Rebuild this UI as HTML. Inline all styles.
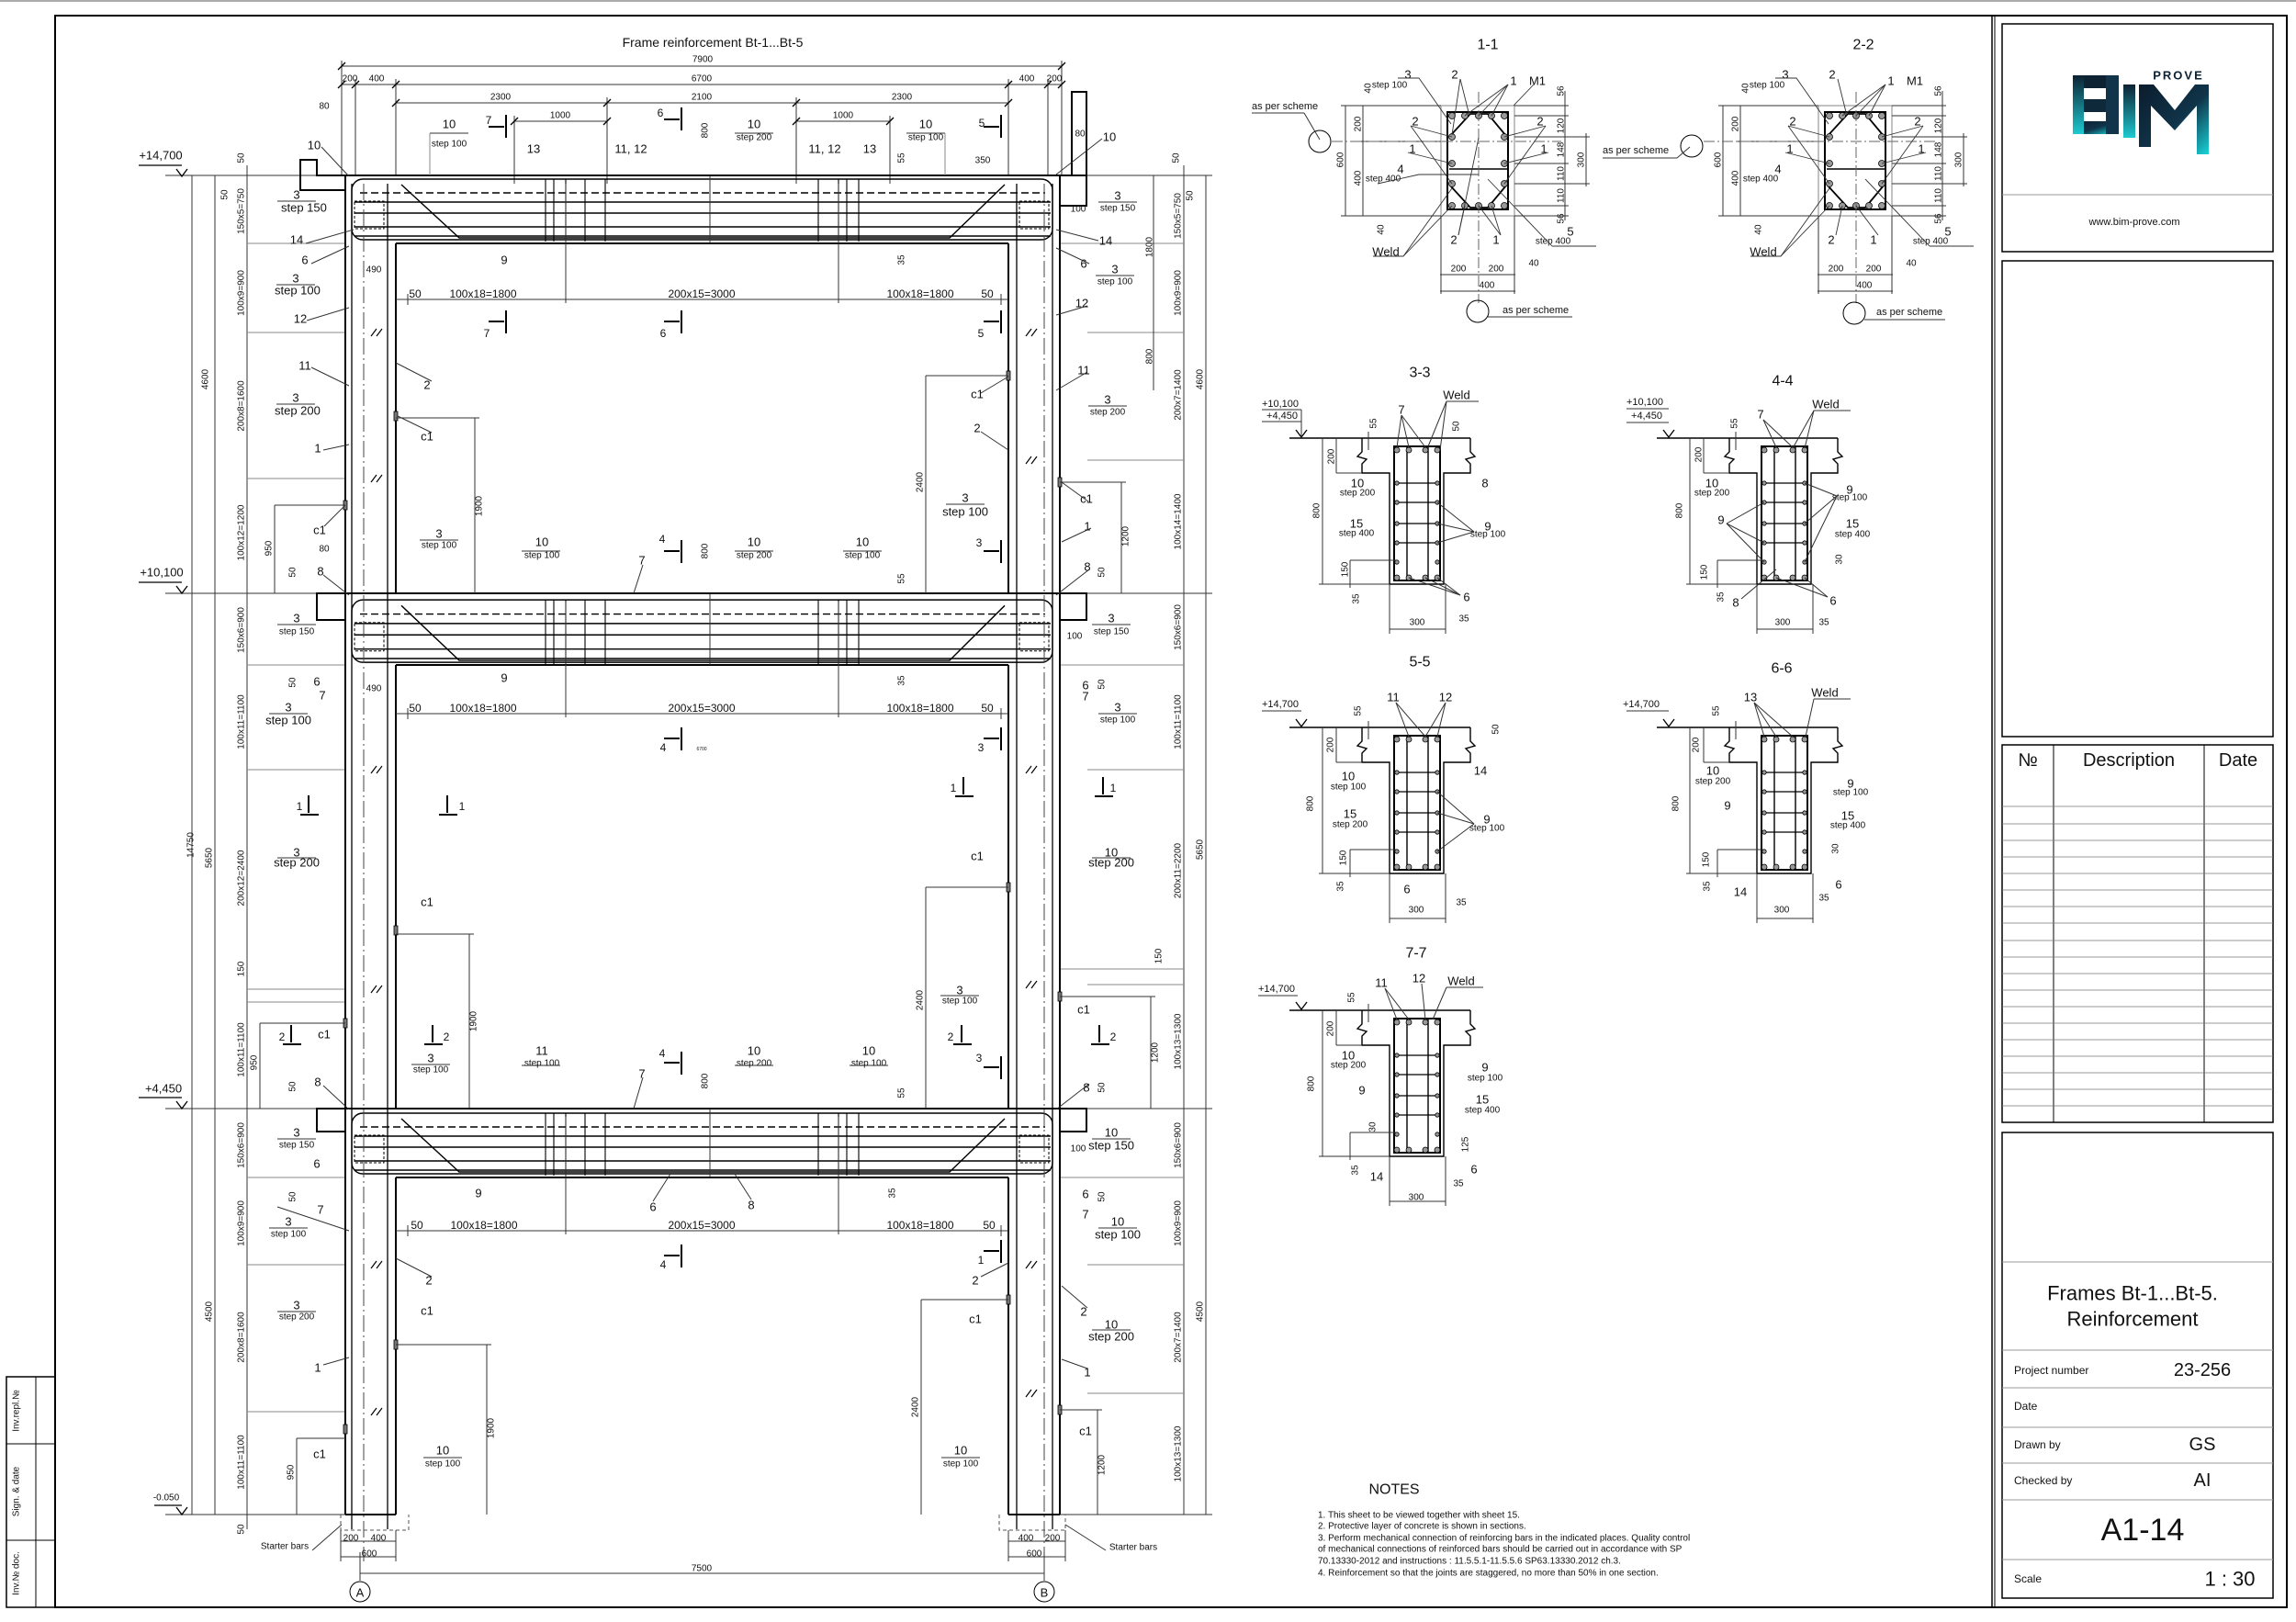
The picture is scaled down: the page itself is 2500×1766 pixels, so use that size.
<!DOCTYPE html>
<html><head><meta charset="utf-8">
<style>
html,body{margin:0;padding:0;background:#fff;}
svg{display:block;}
text{font-family:"Liberation Sans",sans-serif;fill:#111;text-anchor:middle;dominant-baseline:central;font-size:12px;}
.s{font-size:10px;}
.m{font-size:13px;}
.l{text-anchor:start;}
.r{text-anchor:end;}
.st{stroke:#000;fill:none;}
.d{stroke:#333;stroke-width:1;fill:none;}
.g{stroke:#888;stroke-width:1;fill:none;}
</style></head>
<body>
<svg width="2500" height="1766" viewBox="0 0 2500 1766" xmlns="http://www.w3.org/2000/svg">
<rect x="0" y="0" width="2500" height="1766" fill="#fff"/>
<line x1="0" y1="1" x2="2500" y2="1" stroke="#aaa" stroke-width="2"/>
<rect x="60" y="17" width="2430" height="1733" class="st" stroke-width="2"/>
<line x1="2169" y1="17" x2="2169" y2="1750" stroke="#000" stroke-width="1.5"/>
<line x1="2172" y1="17" x2="2172" y2="1750" stroke="#000" stroke-width="1"/>
<rect x="7" y="1499" width="53" height="251" class="st" stroke-width="1.5"/>
<line x1="39" y1="1499" x2="39" y2="1750" stroke="#000"/>
<line x1="7" y1="1572" x2="60" y2="1572" stroke="#000"/>
<line x1="7" y1="1677" x2="60" y2="1677" stroke="#000"/>
<text class="s" transform="translate(18,1536) rotate(-90)">Inv.repl.№</text>
<text class="s" transform="translate(18,1624) rotate(-90)">Sign. &amp; date</text>
<text class="s" transform="translate(18,1713) rotate(-90)">Inv.№ doc.</text>

<rect x="2180" y="26" width="295" height="248" class="st" stroke-width="1.5"/>
<line x1="2180" y1="212" x2="2475" y2="212" stroke="#999"/>
<defs>
<linearGradient id="lg" x1="0" y1="0" x2="1" y2="1"><stop offset="0" stop-color="#0b1c2c"/><stop offset="0.55" stop-color="#10344a"/><stop offset="1" stop-color="#19d3d8"/></linearGradient>
<linearGradient id="lg2" x1="0" y1="0" x2="0" y2="1"><stop offset="0" stop-color="#0d2233"/><stop offset="1" stop-color="#1fc9d0"/></linearGradient>
<g id="beamR" stroke="#000" stroke-width="1.4" fill="none">
<rect x="383" y="4" width="763" height="66" rx="12"/>
<line x1="392" y1="19" x2="1138" y2="19" stroke-dasharray="8,4"/>
<line x1="386" y1="29" x2="1144" y2="29"/>
<line x1="386" y1="41" x2="1144" y2="41"/>
<line x1="386" y1="56" x2="1144" y2="56"/>
<line x1="386" y1="66" x2="1144" y2="66"/>
<polyline points="437,10 500,68 1034,68 1094,10"/>
<g stroke-width="1.1">
<line x1="594" y1="4" x2="594" y2="72"/><line x1="603" y1="4" x2="603" y2="72"/>
<line x1="616" y1="4" x2="616" y2="72"/><line x1="637" y1="4" x2="637" y2="72"/>
<line x1="659" y1="4" x2="659" y2="72"/>
<line x1="891" y1="4" x2="891" y2="72"/><line x1="913" y1="4" x2="913" y2="72"/>
<line x1="922" y1="4" x2="922" y2="72"/><line x1="935" y1="4" x2="935" y2="72"/>
</g>
<g stroke-width="1" stroke-dasharray="3,2">
<rect x="386" y="28" width="32" height="30"/>
<rect x="1110" y="28" width="32" height="30"/>
</g>
</g>
</defs>
<rect x="2257" y="82" width="45" height="14" fill="#0d2233"/>
<rect x="2257" y="108" width="45" height="14" fill="#0e2a3a"/>
<rect x="2257" y="132" width="45" height="14" fill="url(#lg)"/>
<rect x="2257" y="82" width="12" height="64" fill="url(#lg2)"/>
<rect x="2293" y="82" width="14" height="64" fill="#12344a"/>
<rect x="2312" y="92" width="13" height="58" fill="url(#lg2)"/>
<polygon points="2329,92 2345,92 2368,120 2390,92 2405,92 2405,168 2392,168 2392,115 2368,142 2342,115 2342,160 2329,160" fill="url(#lg)"/>
<text x="2372" y="82" style="font-size:13px;font-weight:bold;letter-spacing:2px;fill:#0d2233">PROVE</text>
<text x="2324" y="242" class="s" style="font-size:11px">www.bim-prove.com</text>
<rect x="2180" y="284" width="295" height="518" class="st" stroke-width="1.5"/>
<rect x="2180" y="811" width="295" height="411" class="st" stroke-width="1.5"/>
<line x1="2236" y1="811" x2="2236" y2="1222" stroke="#000"/>
<line x1="2400" y1="811" x2="2400" y2="1222" stroke="#000"/>
<text x="2208" y="828" style="font-size:20px">№</text>
<text x="2318" y="828" style="font-size:20px">Description</text>
<text x="2437" y="828" style="font-size:20px">Date</text>
<g stroke="#777" stroke-width="0.8">
<line x1="2180" y1="878" x2="2475" y2="878"/><line x1="2180" y1="897" x2="2475" y2="897"/>
<line x1="2180" y1="915" x2="2475" y2="915"/><line x1="2180" y1="933" x2="2475" y2="933"/>
<line x1="2180" y1="951" x2="2475" y2="951"/><line x1="2180" y1="969" x2="2475" y2="969"/>
<line x1="2180" y1="987" x2="2475" y2="987"/><line x1="2180" y1="1005" x2="2475" y2="1005"/>
<line x1="2180" y1="1024" x2="2475" y2="1024"/><line x1="2180" y1="1042" x2="2475" y2="1042"/>
<line x1="2180" y1="1060" x2="2475" y2="1060"/><line x1="2180" y1="1078" x2="2475" y2="1078"/>
<line x1="2180" y1="1096" x2="2475" y2="1096"/><line x1="2180" y1="1114" x2="2475" y2="1114"/>
<line x1="2180" y1="1132" x2="2475" y2="1132"/><line x1="2180" y1="1150" x2="2475" y2="1150"/>
<line x1="2180" y1="1168" x2="2475" y2="1168"/><line x1="2180" y1="1186" x2="2475" y2="1186"/>
<line x1="2180" y1="1204" x2="2475" y2="1204"/>
</g>
<rect x="2180" y="1233" width="295" height="507" class="st" stroke-width="1.5"/>
<g stroke="#999" stroke-width="1">
<line x1="2180" y1="1374" x2="2475" y2="1374"/><line x1="2180" y1="1470" x2="2475" y2="1470"/>
<line x1="2180" y1="1511" x2="2475" y2="1511"/><line x1="2180" y1="1554" x2="2475" y2="1554"/>
<line x1="2180" y1="1593" x2="2475" y2="1593"/><line x1="2180" y1="1633" x2="2475" y2="1633"/>
<line x1="2180" y1="1698" x2="2475" y2="1698"/>
</g>
<text x="2322" y="1408" style="font-size:22px">Frames Bt-1...Bt-5.</text>
<text x="2322" y="1436" style="font-size:22px">Reinforcement</text>
<text x="2193" y="1492" class="l" style="font-size:12px">Project number</text>
<text x="2398" y="1492" style="font-size:20px">23-256</text>
<text x="2193" y="1531" class="l" style="font-size:12px">Date</text>
<text x="2193" y="1573" class="l" style="font-size:12px">Drawn by</text>
<text x="2398" y="1573" style="font-size:20px">GS</text>
<text x="2193" y="1612" class="l" style="font-size:12px">Checked by</text>
<text x="2398" y="1612" style="font-size:20px">AI</text>
<text x="2333" y="1666" style="font-size:34px">A1-14</text>
<text x="2193" y="1719" class="l" style="font-size:12px">Scale</text>
<text x="2428" y="1719" style="font-size:22px">1 : 30</text>

<text x="776" y="46" style="font-size:14px">Frame reinforcement  Bt-1...Bt-5</text>

<g class="d">
<line x1="372" y1="72" x2="1156" y2="72"/>
<line x1="372" y1="92" x2="1156" y2="92"/>
<line x1="431" y1="112" x2="1098" y2="112"/>
<line x1="560" y1="132" x2="661" y2="132"/>
<line x1="867" y1="132" x2="969" y2="132"/>
<line x1="372" y1="66" x2="372" y2="190"/><line x1="1156" y1="66" x2="1156" y2="190"/>
<line x1="387" y1="86" x2="387" y2="190"/><line x1="1141" y1="86" x2="1141" y2="190"/>
<line x1="431" y1="86" x2="431" y2="190"/><line x1="1098" y1="86" x2="1098" y2="190"/>
<line x1="661" y1="106" x2="661" y2="200"/><line x1="867" y1="106" x2="867" y2="200"/>
<line x1="560" y1="126" x2="560" y2="200"/><line x1="969" y1="126" x2="969" y2="200"/>
</g>
<g stroke="#000" stroke-width="1.3">
<line x1="368" y1="76" x2="376" y2="68"/><line x1="1152" y1="76" x2="1160" y2="68"/>
<line x1="368" y1="96" x2="376" y2="88"/><line x1="383" y1="96" x2="391" y2="88"/><line x1="427" y1="96" x2="435" y2="88"/>
<line x1="1094" y1="96" x2="1102" y2="88"/><line x1="1137" y1="96" x2="1145" y2="88"/><line x1="1152" y1="96" x2="1160" y2="88"/>
<line x1="427" y1="116" x2="435" y2="108"/><line x1="657" y1="116" x2="665" y2="108"/><line x1="863" y1="116" x2="871" y2="108"/><line x1="1094" y1="116" x2="1102" y2="108"/>
<line x1="556" y1="136" x2="564" y2="128"/><line x1="657" y1="136" x2="665" y2="128"/><line x1="863" y1="136" x2="871" y2="128"/><line x1="965" y1="136" x2="973" y2="128"/>
</g>
<text x="765" y="65" class="s">7900</text>
<text x="381" y="86" class="s">200</text><text x="410" y="86" class="s">400</text>
<text x="764" y="86" class="s">6700</text>
<text x="1118" y="86" class="s">400</text><text x="1148" y="86" class="s">200</text>
<text x="545" y="106" class="s">2300</text><text x="764" y="106" class="s">2100</text><text x="982" y="106" class="s">2300</text>
<text x="610" y="126" class="s">1000</text><text x="918" y="126" class="s">1000</text>

<g class="d">
<line x1="209" y1="191" x2="209" y2="1649"/>
<line x1="234" y1="191" x2="234" y2="1649"/>
<line x1="269" y1="180" x2="269" y2="1665"/>
<line x1="1289" y1="180" x2="1289" y2="1649"/>
<line x1="1313" y1="191" x2="1313" y2="1649"/>
<line x1="180" y1="191" x2="376" y2="191"/>
<line x1="180" y1="646" x2="345" y2="646"/>
<line x1="180" y1="1207" x2="345" y2="1207"/>
<line x1="180" y1="1649" x2="376" y2="1649"/>
<line x1="1154" y1="191" x2="1320" y2="191"/>
<line x1="1183" y1="646" x2="1320" y2="646"/>
<line x1="1183" y1="1207" x2="1320" y2="1207"/>
<line x1="1154" y1="1649" x2="1320" y2="1649"/>
</g>
<g class="g">
<line x1="269" y1="265" x2="376" y2="265"/><line x1="269" y1="362" x2="376" y2="362"/>
<line x1="269" y1="521" x2="376" y2="521"/><line x1="269" y1="724" x2="376" y2="724"/>
<line x1="269" y1="838" x2="376" y2="838"/><line x1="269" y1="1077" x2="376" y2="1077"/>
<line x1="269" y1="1091" x2="376" y2="1091"/><line x1="269" y1="1282" x2="376" y2="1282"/>
<line x1="269" y1="1377" x2="376" y2="1377"/><line x1="269" y1="1537" x2="376" y2="1537"/>
<line x1="1154" y1="265" x2="1289" y2="265"/><line x1="1184" y1="362" x2="1289" y2="362"/>
<line x1="1184" y1="501" x2="1289" y2="501"/><line x1="1154" y1="724" x2="1289" y2="724"/>
<line x1="1184" y1="838" x2="1289" y2="838"/><line x1="1154" y1="1055" x2="1289" y2="1055"/>
<line x1="1184" y1="1072" x2="1289" y2="1072"/><line x1="1154" y1="1282" x2="1289" y2="1282"/>
<line x1="1184" y1="1377" x2="1289" y2="1377"/><line x1="1184" y1="1517" x2="1289" y2="1517"/>
</g>
<text class="s" transform="translate(208,920) rotate(-90)">14750</text>
<text class="s" transform="translate(224,413) rotate(-90)">4600</text>
<text class="s" transform="translate(228,934) rotate(-90)">5650</text>
<text class="s" transform="translate(228,1428) rotate(-90)">4500</text>
<text class="s" transform="translate(263,172) rotate(-90)">50</text>
<text class="s" transform="translate(245,212) rotate(-90)">50</text>
<text class="s" transform="translate(263,230) rotate(-90)">150x5=750</text>
<text class="s" transform="translate(263,319) rotate(-90)">100x9=900</text>
<text class="s" transform="translate(263,442) rotate(-90)">200x8=1600</text>
<text class="s" transform="translate(263,580) rotate(-90)">100x12=1200</text>
<text class="s" transform="translate(263,686) rotate(-90)">150x6=900</text>
<text class="s" transform="translate(263,786) rotate(-90)">100x11=1100</text>
<text class="s" transform="translate(263,956) rotate(-90)">200x12=2400</text>
<text class="s" transform="translate(263,1055) rotate(-90)">150</text>
<text class="s" transform="translate(263,1143) rotate(-90)">100x11=1100</text>
<text class="s" transform="translate(263,1247) rotate(-90)">150x6=900</text>
<text class="s" transform="translate(263,1332) rotate(-90)">100x9=900</text>
<text class="s" transform="translate(263,1456) rotate(-90)">200x8=1600</text>
<text class="s" transform="translate(263,1592) rotate(-90)">100x11=1100</text>
<text class="s" transform="translate(263,1665) rotate(-90)">50</text>
<text class="s" transform="translate(1283,235) rotate(-90)">150x5=750</text>
<text class="s" transform="translate(1283,319) rotate(-90)">100x9=900</text>
<text class="s" transform="translate(1283,430) rotate(-90)">200x7=1400</text>
<text class="s" transform="translate(1283,568) rotate(-90)">100x14=1400</text>
<text class="s" transform="translate(1283,683) rotate(-90)">150x6=900</text>
<text class="s" transform="translate(1283,786) rotate(-90)">100x11=1100</text>
<text class="s" transform="translate(1283,948) rotate(-90)">200x11=2200</text>
<text class="s" transform="translate(1262,1041) rotate(-90)">150</text>
<text class="s" transform="translate(1283,1134) rotate(-90)">100x13=1300</text>
<text class="s" transform="translate(1283,1247) rotate(-90)">150x6=900</text>
<text class="s" transform="translate(1283,1332) rotate(-90)">100x9=900</text>
<text class="s" transform="translate(1283,1456) rotate(-90)">200x7=1400</text>
<text class="s" transform="translate(1283,1583) rotate(-90)">100x13=1300</text>
<text class="s" transform="translate(1307,413) rotate(-90)">4600</text>
<text class="s" transform="translate(1307,925) rotate(-90)">5650</text>
<text class="s" transform="translate(1307,1428) rotate(-90)">4500</text>
<text class="s" transform="translate(1281,172) rotate(-90)">50</text>
<text class="s" transform="translate(1296,213) rotate(-90)">50</text>

<g stroke="#000" stroke-width="1.3" fill="none">
<polyline points="151,180 198,180"/><polyline points="192,184 198,192 204,184"/>
<polyline points="151,634 198,634"/><polyline points="192,638 198,646 204,638"/>
<polyline points="151,1195 198,1195"/><polyline points="192,1199 198,1207 204,1199"/>
<polyline points="168,1639 198,1639"/><polyline points="192,1641 198,1649 204,1641"/>
</g>
<text x="175" y="169" class="m">+14,700</text>
<text x="176" y="623" class="m">+10,100</text>
<text x="178" y="1185" class="m">+4,450</text>
<text x="181" y="1631" class="s">-0.050</text>

<g stroke="#000" stroke-width="2" fill="none">
<line x1="376" y1="191" x2="376" y2="1649"/>
<line x1="431" y1="265" x2="431" y2="646"/>
<line x1="431" y1="724" x2="431" y2="1207"/>
<line x1="431" y1="1282" x2="431" y2="1649"/>
<line x1="1098" y1="265" x2="1098" y2="646"/>
<line x1="1098" y1="724" x2="1098" y2="1207"/>
<line x1="1098" y1="1282" x2="1098" y2="1649"/>
<line x1="1154" y1="191" x2="1154" y2="1649"/>
<line x1="376" y1="1649" x2="431" y2="1649"/>
<line x1="1098" y1="1649" x2="1154" y2="1649"/>
<polyline points="376,207 327,207 327,174 345,174 345,191 1183,191 1183,100 1167,100 1167,191"/>
<polyline points="1154,224 1183,224 1183,191"/>
<line x1="431" y1="265" x2="1098" y2="265"/>
<polyline points="376,675 345,675 345,646 1183,646 1183,675 1154,675"/>
<line x1="431" y1="724" x2="1098" y2="724"/>
<polyline points="376,1232 345,1232 345,1207 1183,1207 1183,1232 1154,1232"/>
<line x1="431" y1="1282" x2="1098" y2="1282"/>
</g>
<g stroke="#555" stroke-width="1" fill="none" stroke-dasharray="4,3">
<polyline points="371,1649 371,1666 445,1666 445,1649"/>
<polyline points="1088,1649 1088,1666 1160,1666 1160,1649"/>
</g>

<use href="#beamR" transform="translate(0,191)"/>
<use href="#beamR" transform="translate(0,649) scale(1,1.03)"/>
<use href="#beamR" transform="translate(0,1208)"/>

<g stroke="#000" stroke-width="1.3" fill="none">
<line x1="383" y1="200" x2="383" y2="1665"/>
<line x1="422" y1="200" x2="422" y2="1665"/>
<line x1="1107" y1="200" x2="1107" y2="1665"/>
<line x1="1146" y1="200" x2="1146" y2="1665"/>
</g>
<g stroke="#444" stroke-width="1" fill="none" stroke-dasharray="18,4,2,4">
<line x1="396" y1="200" x2="396" y2="1700"/>
<line x1="1137" y1="200" x2="1137" y2="1700"/>
</g>
<g stroke="#000" stroke-width="1.2">
<line x1="404" y1="366" x2="410" y2="358"/><line x1="410" y1="366" x2="416" y2="358"/>
<line x1="404" y1="525" x2="410" y2="517"/><line x1="410" y1="525" x2="416" y2="517"/>
<line x1="404" y1="842" x2="410" y2="834"/><line x1="410" y1="842" x2="416" y2="834"/>
<line x1="404" y1="1081" x2="410" y2="1073"/><line x1="410" y1="1081" x2="416" y2="1073"/>
<line x1="404" y1="1381" x2="410" y2="1373"/><line x1="410" y1="1381" x2="416" y2="1373"/>
<line x1="404" y1="1541" x2="410" y2="1533"/><line x1="410" y1="1541" x2="416" y2="1533"/>
<line x1="1117" y1="366" x2="1123" y2="358"/><line x1="1123" y1="366" x2="1129" y2="358"/>
<line x1="1117" y1="505" x2="1123" y2="497"/><line x1="1123" y1="505" x2="1129" y2="497"/>
<line x1="1117" y1="842" x2="1123" y2="834"/><line x1="1123" y1="842" x2="1129" y2="834"/>
<line x1="1117" y1="1076" x2="1123" y2="1068"/><line x1="1123" y1="1076" x2="1129" y2="1068"/>
<line x1="1117" y1="1381" x2="1123" y2="1373"/><line x1="1123" y1="1381" x2="1129" y2="1373"/>
<line x1="1117" y1="1521" x2="1123" y2="1513"/><line x1="1123" y1="1521" x2="1129" y2="1513"/>
</g>
<g fill="#777" stroke="#000" stroke-width="0.8">
<rect x="429" y="448" width="4" height="10"/><rect x="374" y="545" width="4" height="10"/>
<rect x="429" y="1008" width="4" height="10"/><rect x="374" y="1109" width="4" height="10"/>
<rect x="429" y="1459" width="4" height="10"/><rect x="374" y="1551" width="4" height="10"/>
<rect x="1096" y="404" width="4" height="10"/><rect x="1152" y="520" width="4" height="10"/>
<rect x="1096" y="961" width="4" height="10"/><rect x="1152" y="1080" width="4" height="10"/>
<rect x="1096" y="1410" width="4" height="10"/><rect x="1152" y="1530" width="4" height="10"/>
</g>

<g class="d">
<line x1="431" y1="326" x2="1098" y2="326"/>
<line x1="431" y1="777" x2="1098" y2="777"/>
<line x1="431" y1="1340" x2="1098" y2="1340"/>
<line x1="616" y1="200" x2="616" y2="330"/><line x1="913" y1="200" x2="913" y2="330"/>
<line x1="616" y1="655" x2="616" y2="781"/><line x1="913" y1="655" x2="913" y2="781"/>
<line x1="616" y1="1216" x2="616" y2="1344"/><line x1="913" y1="1216" x2="913" y2="1344"/>
<line x1="444" y1="320" x2="444" y2="332"/><line x1="1090" y1="320" x2="1090" y2="332"/>
<line x1="444" y1="771" x2="444" y2="783"/><line x1="1090" y1="771" x2="1090" y2="783"/>
<line x1="444" y1="1334" x2="444" y2="1346"/><line x1="1090" y1="1334" x2="1090" y2="1346"/>
<line x1="773" y1="191" x2="773" y2="265"/><line x1="773" y1="646" x2="773" y2="724"/><line x1="773" y1="1207" x2="773" y2="1282"/>
</g>
<g class="s">
<text x="452" y="320">50</text><text x="526" y="320">100x18=1800</text><text x="764" y="320">200x15=3000</text><text x="1002" y="320">100x18=1800</text><text x="1075" y="320">50</text>
<text x="452" y="771">50</text><text x="526" y="771">100x18=1800</text><text x="764" y="771">200x15=3000</text><text x="1002" y="771">100x18=1800</text><text x="1075" y="771">50</text>
<text x="454" y="1334">50</text><text x="527" y="1334">100x18=1800</text><text x="764" y="1334">200x15=3000</text><text x="1002" y="1334">100x18=1800</text><text x="1077" y="1334">50</text>
</g>

<g class="d">
<line x1="517" y1="455" x2="517" y2="646"/><line x1="431" y1="455" x2="522" y2="455"/>
<line x1="1008" y1="409" x2="1008" y2="646"/><line x1="1008" y1="409" x2="1098" y2="409"/>
<line x1="1221" y1="525" x2="1221" y2="646"/><line x1="1154" y1="525" x2="1226" y2="525"/>
<line x1="299" y1="550" x2="299" y2="646"/><line x1="299" y1="550" x2="376" y2="550"/>
<line x1="511" y1="1017" x2="511" y2="1207"/><line x1="431" y1="1017" x2="516" y2="1017"/>
<line x1="1008" y1="966" x2="1008" y2="1207"/><line x1="1008" y1="966" x2="1098" y2="966"/>
<line x1="1253" y1="1085" x2="1253" y2="1207"/><line x1="1154" y1="1085" x2="1258" y2="1085"/>
<line x1="283" y1="1114" x2="283" y2="1207"/><line x1="283" y1="1114" x2="376" y2="1114"/>
<line x1="530" y1="1464" x2="530" y2="1649"/><line x1="431" y1="1464" x2="535" y2="1464"/>
<line x1="1003" y1="1415" x2="1003" y2="1649"/><line x1="1003" y1="1415" x2="1098" y2="1415"/>
<line x1="1195" y1="1535" x2="1195" y2="1649"/><line x1="1154" y1="1535" x2="1200" y2="1535"/>
<line x1="323" y1="1566" x2="323" y2="1649"/><line x1="323" y1="1566" x2="376" y2="1566"/>
<line x1="1256" y1="191" x2="1256" y2="362"/>
<line x1="1256" y1="362" x2="1256" y2="425"/>
</g>
<text class="s" transform="translate(522,551) rotate(-90)">1900</text>
<text class="s" transform="translate(1002,525) rotate(-90)">2400</text>
<text class="s" transform="translate(1226,584) rotate(-90)">1200</text>
<text class="s" transform="translate(293,597) rotate(-90)">950</text>
<text class="s" transform="translate(516,1112) rotate(-90)">1900</text>
<text class="s" transform="translate(1002,1089) rotate(-90)">2400</text>
<text class="s" transform="translate(1258,1146) rotate(-90)">1200</text>
<text class="s" transform="translate(277,1157) rotate(-90)">950</text>
<text class="s" transform="translate(535,1555) rotate(-90)">1900</text>
<text class="s" transform="translate(997,1532) rotate(-90)">2400</text>
<text class="s" transform="translate(1200,1595) rotate(-90)">1200</text>
<text class="s" transform="translate(317,1603) rotate(-90)">950</text>
<text class="s" transform="translate(1252,269) rotate(-90)">1800</text>
<text class="s" transform="translate(1252,388) rotate(-90)">800</text>
<text class="s" transform="translate(768,142) rotate(-90)">800</text>
<text class="s" transform="translate(768,600) rotate(-90)">800</text>
<text class="s" transform="translate(768,1177) rotate(-90)">800</text>
<text class="s" transform="translate(982,172) rotate(-90)">55</text>
<text class="s" transform="translate(982,283) rotate(-90)">35</text>
<text class="s" transform="translate(982,630) rotate(-90)">55</text>
<text class="s" transform="translate(982,741) rotate(-90)">35</text>
<text class="s" transform="translate(982,1190) rotate(-90)">55</text>
<text class="s" transform="translate(972,1299) rotate(-90)">35</text>
<text class="s" transform="translate(319,623) rotate(-90)">50</text>
<text class="s" transform="translate(319,743) rotate(-90)">50</text>
<text class="s" transform="translate(319,1183) rotate(-90)">50</text>
<text class="s" transform="translate(319,1303) rotate(-90)">50</text>
<text class="s" transform="translate(1200,623) rotate(-90)">50</text>
<text class="s" transform="translate(1200,745) rotate(-90)">50</text>
<text class="s" transform="translate(1200,1184) rotate(-90)">50</text>
<text class="s" transform="translate(1200,1303) rotate(-90)">50</text>

<g class="d" stroke="#000">
<line x1="468" y1="145" x2="510" y2="145"/><line x1="800" y1="145" x2="842" y2="145"/><line x1="987" y1="145" x2="1029" y2="145"/>
<line x1="568" y1="600" x2="610" y2="600"/><line x1="800" y1="600" x2="842" y2="600"/><line x1="918" y1="600" x2="960" y2="600"/>
<line x1="568" y1="1160" x2="610" y2="1160"/><line x1="800" y1="1160" x2="842" y2="1160"/><line x1="925" y1="1160" x2="967" y2="1160"/>
<line x1="302" y1="219" x2="344" y2="219"/><line x1="301" y1="310" x2="343" y2="310"/><line x1="301" y1="440" x2="343" y2="440"/>
<line x1="457" y1="588" x2="499" y2="588"/><line x1="302" y1="680" x2="344" y2="680"/><line x1="293" y1="777" x2="335" y2="777"/>
<line x1="302" y1="934" x2="344" y2="934"/><line x1="448" y1="1159" x2="490" y2="1159"/><line x1="302" y1="1240" x2="344" y2="1240"/>
<line x1="293" y1="1337" x2="335" y2="1337"/><line x1="302" y1="1428" x2="344" y2="1428"/><line x1="461" y1="1587" x2="503" y2="1587"/>
<line x1="1196" y1="220" x2="1238" y2="220"/><line x1="1193" y1="300" x2="1235" y2="300"/><line x1="1185" y1="442" x2="1227" y2="442"/>
<line x1="1030" y1="549" x2="1072" y2="549"/><line x1="1189" y1="680" x2="1231" y2="680"/><line x1="1196" y1="777" x2="1238" y2="777"/>
<line x1="1189" y1="934" x2="1231" y2="934"/><line x1="1024" y1="1084" x2="1066" y2="1084"/><line x1="1189" y1="1240" x2="1231" y2="1240"/>
<line x1="1196" y1="1337" x2="1238" y2="1337"/><line x1="1189" y1="1448" x2="1231" y2="1448"/><line x1="1025" y1="1587" x2="1067" y2="1587"/>
<line x1="302" y1="1314" x2="380" y2="1340"/>
<line x1="468" y1="145" x2="468" y2="191" stroke="#888"/><line x1="1029" y1="145" x2="1029" y2="191" stroke="#888"/>
<line x1="350" y1="160" x2="380" y2="192"/><line x1="1200" y1="151" x2="1150" y2="190"/>
<line x1="333" y1="265" x2="385" y2="250"/><line x1="339" y1="287" x2="380" y2="268"/>
<line x1="334" y1="349" x2="380" y2="335"/><line x1="339" y1="400" x2="380" y2="420"/>
<line x1="470" y1="415" x2="431" y2="395"/><line x1="352" y1="490" x2="380" y2="484"/>
<line x1="470" y1="471" x2="433" y2="453"/><line x1="353" y1="573" x2="376" y2="550"/>
<line x1="352" y1="626" x2="380" y2="648"/><line x1="700" y1="615" x2="690" y2="646"/>
<line x1="1196" y1="262" x2="1150" y2="250"/><line x1="1186" y1="287" x2="1150" y2="270"/>
<line x1="1184" y1="333" x2="1150" y2="343"/><line x1="1184" y1="405" x2="1150" y2="425"/>
<line x1="1068" y1="428" x2="1098" y2="410"/><line x1="1068" y1="470" x2="1098" y2="490"/>
<line x1="1185" y1="546" x2="1156" y2="525"/><line x1="1188" y1="575" x2="1156" y2="590"/>
<line x1="1186" y1="620" x2="1150" y2="648"/>
<line x1="352" y1="1182" x2="380" y2="1208"/><line x1="1186" y1="1180" x2="1150" y2="1208"/>
<line x1="700" y1="1173" x2="690" y2="1207"/><line x1="711" y1="1308" x2="730" y2="1278"/><line x1="818" y1="1306" x2="800" y2="1278"/>
<line x1="1068" y1="1390" x2="1098" y2="1375"/><line x1="470" y1="1390" x2="431" y2="1370"/>
<line x1="1184" y1="1424" x2="1156" y2="1400"/><line x1="1184" y1="1490" x2="1156" y2="1480"/>
<line x1="352" y1="1486" x2="380" y2="1478"/>
</g>
<text x="489" y="135" class="m">10</text><text x="489" y="157" class="s">step 100</text>
<text x="821" y="135" class="m">10</text><text x="821" y="150" class="s">step 200</text>
<text x="1008" y="135" class="m">10</text><text x="1008" y="150" class="s">step 100</text>
<text x="581" y="162" class="m">13</text><text x="687" y="162" class="m">11, 12</text>
<text x="898" y="162" class="m">11, 12</text><text x="947" y="162" class="m">13</text>
<text x="1070" y="175" class="s">350</text>
<text x="353" y="116" class="s">80</text><text x="342" y="158" class="m">10</text>
<text x="1176" y="146" class="s">80</text><text x="1208" y="149" class="m">10</text>
<text x="323" y="212" class="m">3</text><text x="306" y="226" class="m l">step 150</text>
<text x="323" y="261" class="m">14</text><text x="332" y="283" class="m">6</text>
<text x="549" y="283" class="m">9</text>
<text x="407" y="294" class="s">490</text>
<text x="322" y="303" class="m">3</text><text x="299" y="316" class="m l">step 100</text>
<text x="327" y="347" class="m">12</text><text x="332" y="398" class="m">11</text>
<text x="465" y="419" class="m">2</text>
<text x="322" y="433" class="m">3</text><text x="299" y="447" class="m l">step 200</text>
<text x="465" y="475" class="m">c1</text><text x="346" y="488" class="m">1</text>
<text x="348" y="577" class="m">c1</text><text x="353" y="598" class="s">80</text>
<text x="478" y="581" class="m">3</text><text x="478" y="594" class="s">step 100</text>
<text x="590" y="590" class="m">10</text><text x="590" y="605" class="s">step 100</text>
<text x="821" y="590" class="m">10</text><text x="821" y="605" class="s">step 200</text>
<text x="939" y="590" class="m">10</text><text x="939" y="605" class="s">step 100</text>
<text x="699" y="610" class="m">7</text><text x="349" y="622" class="m">8</text>
<text x="1217" y="213" class="m">3</text><text x="1217" y="227" class="s">step 150</text>
<text x="1174" y="228" class="s">100</text><text x="1204" y="262" class="m">14</text>
<text x="1180" y="287" class="m">6</text>
<text x="1214" y="293" class="m">3</text><text x="1214" y="307" class="s">step 100</text>
<text x="1178" y="330" class="m">12</text><text x="1180" y="403" class="m">11</text>
<text x="1206" y="435" class="m">3</text><text x="1206" y="449" class="s">step 200</text>
<text x="1064" y="429" class="m">c1</text><text x="1064" y="466" class="m">2</text>
<text x="1051" y="542" class="m">3</text><text x="1051" y="557" class="m">step 100</text>
<text x="1183" y="543" class="m">c1</text><text x="1184" y="573" class="m">1</text>
<text x="1184" y="617" class="m">8</text>
<text x="323" y="673" class="m">3</text><text x="323" y="688" class="s">step 150</text>
<text x="549" y="738" class="m">9</text>
<text x="345" y="742" class="m">6</text><text x="351" y="757" class="m">7</text>
<text x="407" y="750" class="s">490</text>
<text x="314" y="770" class="m">3</text><text x="314" y="784" class="m">step 100</text>
<text x="1210" y="673" class="m">3</text><text x="1210" y="688" class="s">step 150</text>
<text x="1170" y="693" class="s">100</text>
<text x="1182" y="746" class="m">6</text><text x="1182" y="758" class="m">7</text>
<text x="1217" y="770" class="m">3</text><text x="1217" y="784" class="s">step 100</text>
<text x="764" y="816" class="s" style="font-size:5px">6700</text>
<text x="323" y="928" class="m">3</text><text x="323" y="939" class="m">step 200</text>
<text x="1210" y="928" class="m">10</text><text x="1210" y="939" class="m">step 200</text>
<text x="1064" y="932" class="m">c1</text><text x="465" y="982" class="m">c1</text>
<text x="1045" y="1078" class="m">3</text><text x="1045" y="1090" class="s">step 100</text>
<text x="1180" y="1099" class="m">c1</text><text x="353" y="1126" class="m">c1</text>
<text x="469" y="1152" class="m">3</text><text x="469" y="1165" class="s">step 100</text>
<text x="590" y="1144" class="m">11</text><text x="590" y="1158" class="s">step 100</text>
<text x="821" y="1144" class="m">10</text><text x="821" y="1158" class="s">step 200</text>
<text x="946" y="1144" class="m">10</text><text x="946" y="1158" class="s">step 100</text>
<text x="699" y="1169" class="m">7</text>
<text x="346" y="1178" class="m">8</text><text x="1183" y="1184" class="m">8</text>
<text x="323" y="1233" class="m">3</text><text x="323" y="1247" class="s">step 150</text>
<text x="1210" y="1233" class="m">10</text><text x="1210" y="1247" class="m">step 150</text>
<text x="1174" y="1251" class="s">100</text>
<text x="345" y="1267" class="m">6</text><text x="521" y="1299" class="m">9</text>
<text x="711" y="1314" class="m">6</text><text x="818" y="1312" class="m">8</text>
<text x="349" y="1317" class="m">7</text>
<text x="1182" y="1300" class="m">6</text><text x="1182" y="1322" class="m">7</text>
<text x="314" y="1330" class="m">3</text><text x="314" y="1344" class="s">step 100</text>
<text x="1217" y="1330" class="m">10</text><text x="1217" y="1344" class="m">step 100</text>
<text x="467" y="1394" class="m">2</text><text x="1062" y="1394" class="m">2</text>
<text x="1062" y="1436" class="m">c1</text><text x="1180" y="1428" class="m">2</text>
<text x="323" y="1421" class="m">3</text><text x="323" y="1434" class="s">step 200</text>
<text x="465" y="1427" class="m">c1</text>
<text x="1210" y="1442" class="m">10</text><text x="1210" y="1455" class="m">step 200</text>
<text x="346" y="1489" class="m">1</text><text x="1184" y="1494" class="m">1</text>
<text x="348" y="1583" class="m">c1</text><text x="1182" y="1558" class="m">c1</text>
<text x="482" y="1579" class="m">10</text><text x="482" y="1594" class="s">step 100</text>
<text x="1046" y="1579" class="m">10</text><text x="1046" y="1594" class="s">step 100</text>
<text x="310" y="1684" class="s">Starter bars</text><text x="1234" y="1685" class="s">Starter bars</text>
<line x1="340" y1="1688" x2="372" y2="1660" stroke="#333"/><line x1="1204" y1="1688" x2="1160" y2="1660" stroke="#333"/>

<g stroke="#000" stroke-width="2" fill="none">
<line x1="551" y1="125" x2="551" y2="150"/><line x1="532" y1="138" x2="549" y2="138"/>
<line x1="742" y1="117" x2="742" y2="142"/><line x1="723" y1="130" x2="740" y2="130"/>
<line x1="1090" y1="125" x2="1090" y2="150"/><line x1="1071" y1="138" x2="1088" y2="138"/>
<line x1="551" y1="338" x2="551" y2="363"/><line x1="532" y1="350" x2="549" y2="350"/>
<line x1="742" y1="338" x2="742" y2="363"/><line x1="723" y1="350" x2="740" y2="350"/>
<line x1="1090" y1="338" x2="1090" y2="363"/><line x1="1071" y1="350" x2="1088" y2="350"/>
<line x1="742" y1="588" x2="742" y2="613"/><line x1="723" y1="600" x2="740" y2="600"/>
<line x1="1090" y1="588" x2="1090" y2="613"/><line x1="1071" y1="600" x2="1088" y2="600"/>
<line x1="742" y1="792" x2="742" y2="817"/><line x1="723" y1="804" x2="740" y2="804"/>
<line x1="1090" y1="792" x2="1090" y2="817"/><line x1="1071" y1="804" x2="1088" y2="804"/>
<line x1="742" y1="1145" x2="742" y2="1170"/><line x1="723" y1="1157" x2="740" y2="1157"/>
<line x1="1090" y1="1150" x2="1090" y2="1175"/><line x1="1071" y1="1162" x2="1088" y2="1162"/>
<line x1="742" y1="1355" x2="742" y2="1380"/><line x1="723" y1="1367" x2="740" y2="1367"/>
<line x1="1090" y1="1350" x2="1090" y2="1375"/><line x1="1071" y1="1362" x2="1088" y2="1362"/>
<line x1="327" y1="887" x2="347" y2="887"/><line x1="336" y1="866" x2="336" y2="885"/>
<line x1="478" y1="887" x2="498" y2="887"/><line x1="487" y1="866" x2="487" y2="885"/>
<line x1="1040" y1="867" x2="1060" y2="867"/><line x1="1049" y1="846" x2="1049" y2="865"/>
<line x1="1192" y1="867" x2="1212" y2="867"/><line x1="1201" y1="846" x2="1201" y2="865"/>
<line x1="308" y1="1137" x2="328" y2="1137"/><line x1="317" y1="1116" x2="317" y2="1135"/>
<line x1="462" y1="1137" x2="482" y2="1137"/><line x1="471" y1="1116" x2="471" y2="1135"/>
<line x1="1038" y1="1137" x2="1058" y2="1137"/><line x1="1047" y1="1116" x2="1047" y2="1135"/>
<line x1="1188" y1="1137" x2="1208" y2="1137"/><line x1="1197" y1="1116" x2="1197" y2="1135"/>
</g>
<g class="m" style="font-size:15px">
<text x="532" y="131">7</text><text x="719" y="123">6</text><text x="1069" y="134">5</text>
<text x="530" y="363">7</text><text x="722" y="363">6</text><text x="1068" y="363">5</text>
<text x="721" y="587">4</text><text x="1066" y="591">3</text>
<text x="722" y="814">4</text><text x="1068" y="814">3</text>
<text x="721" y="1147">4</text><text x="1066" y="1152">3</text>
<text x="722" y="1377">4</text><text x="1068" y="1372">1</text>
<text x="326" y="878">1</text><text x="503" y="878">1</text>
<text x="1038" y="858">1</text><text x="1212" y="858">1</text>
<text x="307" y="1129">2</text><text x="486" y="1129">2</text>
<text x="1035" y="1129">2</text><text x="1212" y="1129">2</text>
</g>

<g class="d">
<line x1="371" y1="1678" x2="431" y2="1678"/>
<line x1="371" y1="1695" x2="431" y2="1695"/>
<line x1="1098" y1="1678" x2="1160" y2="1678"/>
<line x1="1098" y1="1695" x2="1160" y2="1695"/>
<line x1="392" y1="1713" x2="1137" y2="1713"/>
<line x1="371" y1="1666" x2="371" y2="1700"/><line x1="431" y1="1666" x2="431" y2="1700"/>
<line x1="1098" y1="1666" x2="1098" y2="1700"/><line x1="1160" y1="1666" x2="1160" y2="1700"/>
<line x1="392" y1="1690" x2="392" y2="1721"/><line x1="1137" y1="1690" x2="1137" y2="1721"/>
</g>
<text x="382" y="1675" class="s">200</text><text x="412" y="1675" class="s">400</text>
<text x="402" y="1692" class="s">600</text>
<text x="1117" y="1675" class="s">400</text><text x="1146" y="1675" class="s">200</text>
<text x="1126" y="1692" class="s">600</text>
<text x="764" y="1708" class="s">7500</text>
<ellipse cx="392" cy="1733" rx="11" ry="11" class="st"/>
<ellipse cx="1137" cy="1733" rx="11" ry="11" class="st"/>
<text x="392" y="1734" class="m">A</text><text x="1137" y="1734" class="m">B</text>

<g id="sec1">
<rect x="1569" y="115" width="80" height="120" fill="none" stroke="#999" stroke-width="1.2"/>
<rect x="1576" y="122" width="66" height="106" fill="none" stroke="#000" stroke-width="2"/>
<polyline points="1579,148 1601,124 1620,124 1640,148" fill="none" stroke="#000" stroke-width="1.8"/>
<polyline points="1579,202 1601,226 1620,226 1640,202" fill="none" stroke="#000" stroke-width="1.8"/>
<line x1="1578" y1="184" x2="1642" y2="184" stroke="#000" stroke-width="1.5"/>
<g fill="#999" stroke="#000" stroke-width="0.8">
<circle cx="1581" cy="126" r="3.5"/><circle cx="1595" cy="126" r="3.5"/><circle cx="1610" cy="126" r="3.5"/><circle cx="1624" cy="126" r="3.5"/><circle cx="1638" cy="126" r="3.5"/>
<circle cx="1581" cy="224" r="3.5"/><circle cx="1595" cy="224" r="3.5"/><circle cx="1610" cy="224" r="3.5"/><circle cx="1624" cy="224" r="3.5"/><circle cx="1638" cy="224" r="3.5"/>
<circle cx="1581" cy="149" r="3.5"/><circle cx="1638" cy="149" r="3.5"/>
<circle cx="1581" cy="178" r="3.5"/><circle cx="1638" cy="178" r="3.5"/>
<circle cx="1581" cy="200" r="3.5"/><circle cx="1638" cy="200" r="3.5"/>
</g>
<g stroke="#666" stroke-width="1" stroke-dasharray="12,3,2,3">
<line x1="1610" y1="100" x2="1610" y2="330"/>
</g>
<g class="d">
<line x1="1465" y1="115" x2="1465" y2="235"/><line x1="1484" y1="115" x2="1484" y2="235"/>
<line x1="1460" y1="115" x2="1569" y2="115"/><line x1="1460" y1="235" x2="1569" y2="235"/>
<line x1="1480" y1="154" x2="1569" y2="154"/>
<line x1="1704" y1="99" x2="1704" y2="240"/><line x1="1727" y1="145" x2="1727" y2="203"/>
<line x1="1649" y1="115" x2="1708" y2="115"/><line x1="1649" y1="126" x2="1708" y2="126"/>
<line x1="1649" y1="149" x2="1731" y2="149"/><line x1="1649" y1="178" x2="1708" y2="178"/>
<line x1="1649" y1="200" x2="1731" y2="200"/><line x1="1649" y1="224" x2="1708" y2="224"/>
<line x1="1649" y1="235" x2="1708" y2="235"/>
<line x1="1568" y1="299" x2="1650" y2="299"/><line x1="1568" y1="317" x2="1650" y2="317"/>
<line x1="1569" y1="235" x2="1569" y2="320"/><line x1="1649" y1="235" x2="1649" y2="320"/>
</g>
</g>
<use href="#sec1" transform="translate(411,0)"/>
<text x="1620" y="49" style="font-size:16px">1-1</text>
<line x1="1450" y1="154" x2="1700" y2="154" stroke="#666" stroke-dasharray="12,3,2,3"/>
<circle cx="1437" cy="154" r="12" class="st" stroke-width="1"/>
<line x1="1363" y1="123" x2="1420" y2="123" stroke="#333"/><line x1="1420" y1="123" x2="1437" y2="152" stroke="#333"/>
<text x="1363" y="116" class="s l" style="font-size:11px">as per scheme</text>
<circle cx="1609" cy="339" r="12" class="st" stroke-width="1"/>
<line x1="1620" y1="345" x2="1712" y2="345" stroke="#333"/>
<text x="1636" y="338" class="s l" style="font-size:11px">as per scheme</text>
<text x="1533" y="81" class="m">3</text><text x="1513" y="93" class="s">step 100</text>
<text x="1584" y="81" class="m">2</text><text x="1648" y="88" class="m">1</text><text x="1674" y="88" class="m">M1</text>
<text x="1541" y="132" class="m">2</text><text x="1677" y="132" class="m">2</text>
<text x="1538" y="162" class="m">1</text><text x="1681" y="162" class="m">1</text>
<text x="1525" y="184" class="m">4</text><text x="1506" y="195" class="s">step 400</text>
<text x="1583" y="261" class="m">2</text><text x="1629" y="261" class="m">1</text>
<text x="1509" y="274" class="m">Weld</text>
<text x="1710" y="252" class="m">5</text><text x="1691" y="263" class="s">step 400</text>
<text x="1670" y="287" class="s">40</text>
<text x="1588" y="293" class="s">200</text><text x="1629" y="293" class="s">200</text><text x="1619" y="311" class="s">400</text>
<text class="s" transform="translate(1460,174) rotate(-90)">600</text>
<text class="s" transform="translate(1479,135) rotate(-90)">200</text>
<text class="s" transform="translate(1479,194) rotate(-90)">400</text>
<text class="s" transform="translate(1490,96) rotate(-90)">40</text>
<text class="s" transform="translate(1504,250) rotate(-90)">40</text>
<text class="s" transform="translate(1700,99) rotate(-90)">56</text>
<text class="s" transform="translate(1700,137) rotate(-90)">120</text>
<text class="s" transform="translate(1700,163) rotate(-90)">148</text>
<text class="s" transform="translate(1700,189) rotate(-90)">110</text>
<text class="s" transform="translate(1700,213) rotate(-90)">110</text>
<text class="s" transform="translate(1700,238) rotate(-90)">56</text>
<text class="s" transform="translate(1722,174) rotate(-90)">300</text>
<g stroke="#333" stroke-width="0.9" fill="none">
<polyline points="1522,85 1545,85 1580,135"/><polyline points="1590,86 1600,126"/><polyline points="1590,86 1581,147"/>
<polyline points="1642,92 1595,126"/><polyline points="1642,92 1610,126"/><polyline points="1642,92 1624,126"/>
<polyline points="1670,92 1648,115"/>
<polyline points="1536,137 1581,149"/><polyline points="1536,137 1581,200"/>
<polyline points="1683,137 1638,149"/><polyline points="1683,137 1638,200"/>
<polyline points="1533,166 1581,178"/><polyline points="1686,166 1638,178"/>
<polyline points="1500,200 1545,190 1610,190"/>
<polyline points="1495,279 1528,279 1581,205"/><polyline points="1528,279 1581,224"/>
<polyline points="1588,256 1595,224"/><polyline points="1588,256 1610,150"/>
<polyline points="1634,256 1610,224"/><polyline points="1634,256 1624,224"/>
<polyline points="1690,268 1738,268"/><polyline points="1690,268 1620,195"/>
</g>
<text x="2029" y="49" style="font-size:16px">2-2</text>
<line x1="1855" y1="154" x2="2110" y2="154" stroke="#666" stroke-dasharray="12,3,2,3"/>
<circle cx="1842" cy="159" r="12" class="st" stroke-width="1"/>
<line x1="1745" y1="172" x2="1826" y2="172" stroke="#333"/><line x1="1826" y1="172" x2="1840" y2="160" stroke="#333"/>
<text x="1745" y="164" class="s l" style="font-size:11px">as per scheme</text>
<circle cx="2019" cy="341" r="12" class="st" stroke-width="1"/>
<line x1="2030" y1="348" x2="2118" y2="348" stroke="#333"/>
<text x="2043" y="340" class="s l" style="font-size:11px">as per scheme</text>
<text x="1944" y="81" class="m">3</text><text x="1924" y="93" class="s">step 100</text>
<text x="1995" y="81" class="m">2</text><text x="2059" y="88" class="m">1</text><text x="2085" y="88" class="m">M1</text>
<text x="1952" y="132" class="m">2</text><text x="2088" y="132" class="m">2</text>
<text x="1949" y="162" class="m">1</text><text x="2092" y="162" class="m">1</text>
<text x="1936" y="184" class="m">4</text><text x="1917" y="195" class="s">step 400</text>
<text x="1994" y="261" class="m">2</text><text x="2040" y="261" class="m">1</text>
<text x="1920" y="274" class="m">Weld</text>
<text x="2121" y="252" class="m">5</text><text x="2102" y="263" class="s">step 400</text>
<text x="2081" y="287" class="s">40</text>
<text x="1999" y="293" class="s">200</text><text x="2040" y="293" class="s">200</text><text x="2030" y="311" class="s">400</text>
<text class="s" transform="translate(1871,174) rotate(-90)">600</text>
<text class="s" transform="translate(1890,135) rotate(-90)">200</text>
<text class="s" transform="translate(1890,194) rotate(-90)">400</text>
<text class="s" transform="translate(1901,96) rotate(-90)">40</text>
<text class="s" transform="translate(1915,250) rotate(-90)">40</text>
<text class="s" transform="translate(2111,99) rotate(-90)">56</text>
<text class="s" transform="translate(2111,137) rotate(-90)">120</text>
<text class="s" transform="translate(2111,163) rotate(-90)">148</text>
<text class="s" transform="translate(2111,189) rotate(-90)">110</text>
<text class="s" transform="translate(2111,213) rotate(-90)">110</text>
<text class="s" transform="translate(2111,238) rotate(-90)">56</text>
<text class="s" transform="translate(2133,174) rotate(-90)">300</text>
<g stroke="#333" stroke-width="0.9" fill="none">
<polyline points="1933,85 1956,85 1991,135"/><polyline points="2001,86 2011,126"/>
<polyline points="2053,92 2006,126"/><polyline points="2053,92 2021,126"/><polyline points="2053,92 2035,126"/>
<polyline points="1947,137 1992,149"/><polyline points="1947,137 1992,200"/>
<polyline points="2094,137 2049,149"/><polyline points="2094,137 2049,200"/>
<polyline points="1944,166 1992,178"/><polyline points="2097,166 2049,178"/>
<polyline points="1906,279 1939,279 1992,205"/><polyline points="1939,279 1992,224"/>
<polyline points="1999,256 2006,224"/><polyline points="2045,256 2021,224"/>
<polyline points="2101,268 2149,268"/><polyline points="2101,268 2031,195"/>
</g>

<g id="tsec">
<line x1="1404" y1="477" x2="1601" y2="477" stroke="#000" stroke-width="1.5"/>
<polyline points="1483,477 1483,492 1478,497 1488,500 1483,505 1483,515 1513,515 1513,636 1572,636 1572,515 1601,515 1601,505 1596,500 1606,497 1601,492 1601,477" fill="none" stroke="#000" stroke-width="1.4"/>
<rect x="1518" y="486" width="50" height="146" fill="none" stroke="#000" stroke-width="2"/>
<line x1="1532" y1="486" x2="1532" y2="632" stroke="#000" stroke-width="1.4"/>
<line x1="1555" y1="486" x2="1555" y2="632" stroke="#000" stroke-width="1.4"/>
<g stroke="#000" stroke-width="1.3">
<line x1="1518" y1="526" x2="1568" y2="526"/><line x1="1518" y1="547" x2="1568" y2="547"/>
<line x1="1518" y1="570" x2="1568" y2="570"/><line x1="1518" y1="591" x2="1568" y2="591"/>
</g>
<g fill="#999" stroke="#000" stroke-width="0.8">
<circle cx="1521" cy="490" r="3"/><circle cx="1534" cy="490" r="3"/><circle cx="1552" cy="490" r="3"/><circle cx="1565" cy="490" r="3"/>
<circle cx="1521" cy="629" r="3"/><circle cx="1534" cy="629" r="3"/><circle cx="1552" cy="629" r="3"/><circle cx="1565" cy="629" r="3"/>
<circle cx="1521" cy="526" r="2.2"/><circle cx="1565" cy="526" r="2.2"/><circle cx="1521" cy="547" r="2.2"/><circle cx="1565" cy="547" r="2.2"/>
<circle cx="1521" cy="570" r="2.2"/><circle cx="1565" cy="570" r="2.2"/><circle cx="1521" cy="591" r="2.2"/><circle cx="1565" cy="591" r="2.2"/>
<circle cx="1521" cy="612" r="2.2"/><circle cx="1565" cy="612" r="2.2"/>
</g>
<g class="d">
<line x1="1440" y1="477" x2="1440" y2="636"/><line x1="1455" y1="477" x2="1455" y2="515"/>
<line x1="1436" y1="636" x2="1513" y2="636"/><line x1="1455" y1="515" x2="1483" y2="515"/>
<line x1="1470" y1="610" x2="1470" y2="640"/><line x1="1470" y1="610" x2="1520" y2="610"/>
<line x1="1513" y1="685" x2="1574" y2="685"/><line x1="1513" y1="636" x2="1513" y2="690"/><line x1="1574" y1="636" x2="1574" y2="690"/>
<line x1="1490" y1="470" x2="1490" y2="490"/>
</g>
<polyline points="1411,468 1417,476 1423,468" fill="none" stroke="#000" stroke-width="1.3"/>
</g>
<use href="#tsec" transform="translate(400,0)"/>
<use href="#tsec" transform="translate(0,315)"/>
<use href="#tsec" transform="translate(400,315)"/>
<use href="#tsec" transform="translate(0,623)"/>

<text x="1546" y="406" style="font-size:16px">3-3</text>
<text x="1394" y="440" class="s" style="font-size:11px">+10,100</text><text x="1396" y="453" class="s" style="font-size:11px">+4,450</text>
<line x1="1374" y1="446" x2="1417" y2="446" stroke="#333"/><line x1="1374" y1="459" x2="1417" y2="459" stroke="#333"/><line x1="1417" y1="446" x2="1417" y2="476" stroke="#333"/>
<text x="1526" y="446" class="m">7</text><text x="1586" y="430" class="m">Weld</text>
<line x1="1575" y1="437" x2="1610" y2="437" stroke="#333"/><line x1="1575" y1="437" x2="1555" y2="486" stroke="#333"/><line x1="1575" y1="437" x2="1568" y2="490" stroke="#333"/>
<line x1="1526" y1="452" x2="1521" y2="487" stroke="#333"/><line x1="1526" y1="452" x2="1534" y2="487" stroke="#333"/><line x1="1526" y1="452" x2="1552" y2="487" stroke="#333"/>
<text x="1617" y="526" class="m">8</text>
<text x="1478" y="526" class="m">10</text><text x="1478" y="537" class="s">step 200</text>
<text x="1477" y="570" class="m">15</text><text x="1477" y="581" class="s">step 400</text>
<text x="1620" y="573" class="m">9</text><text x="1620" y="582" class="s">step 100</text>
<line x1="1605" y1="579" x2="1565" y2="547" stroke="#333"/><line x1="1605" y1="579" x2="1565" y2="570" stroke="#333"/><line x1="1605" y1="579" x2="1565" y2="591" stroke="#333"/>
<text x="1597" y="650" class="m">6</text>
<line x1="1590" y1="648" x2="1534" y2="629" stroke="#333"/><line x1="1590" y1="648" x2="1552" y2="629" stroke="#333"/><line x1="1590" y1="648" x2="1565" y2="629" stroke="#333"/>
<text x="1543" y="678" class="s">300</text><text x="1594" y="674" class="s">35</text>
<text class="s" transform="translate(1434,556) rotate(-90)">800</text>
<text class="s" transform="translate(1450,497) rotate(-90)">200</text>
<text class="s" transform="translate(1496,461) rotate(-90)">55</text>
<text class="s" transform="translate(1586,464) rotate(-90)">50</text>
<text class="s" transform="translate(1465,620) rotate(-90)">150</text>
<text class="s" transform="translate(1477,652) rotate(-90)">35</text>
<text x="1941" y="415" style="font-size:16px">4-4</text>
<text x="1791" y="438" class="s" style="font-size:11px">+10,100</text><text x="1793" y="453" class="s" style="font-size:11px">+4,450</text>
<line x1="1771" y1="445" x2="1817" y2="445" stroke="#333"/><line x1="1771" y1="460" x2="1817" y2="460" stroke="#333"/>
<text x="1917" y="451" class="m">7</text><text x="1988" y="440" class="m">Weld</text>
<line x1="1975" y1="447" x2="2015" y2="447" stroke="#333"/><line x1="1975" y1="447" x2="1952" y2="488" stroke="#333"/><line x1="1975" y1="447" x2="1965" y2="488" stroke="#333"/>
<line x1="1920" y1="457" x2="1934" y2="487" stroke="#333"/><line x1="1920" y1="457" x2="1952" y2="487" stroke="#333"/>
<text x="1864" y="526" class="m">10</text><text x="1864" y="537" class="s">step 200</text>
<text x="1874" y="566" class="m">9</text>
<line x1="1880" y1="570" x2="1921" y2="547" stroke="#333"/><line x1="1880" y1="570" x2="1921" y2="591" stroke="#333"/><line x1="1880" y1="570" x2="1921" y2="612" stroke="#333"/>
<text x="2014" y="533" class="m">9</text><text x="2014" y="542" class="s">step 100</text>
<line x1="2000" y1="540" x2="1965" y2="526" stroke="#333"/><line x1="2000" y1="540" x2="1965" y2="570" stroke="#333"/><line x1="2000" y1="540" x2="1965" y2="612" stroke="#333"/>
<text x="2017" y="570" class="m">15</text><text x="2017" y="582" class="s">step 400</text>
<text x="1890" y="656" class="m">8</text><text x="1996" y="654" class="m">6</text>
<line x1="1990" y1="650" x2="1934" y2="629" stroke="#333"/><line x1="1990" y1="650" x2="1965" y2="629" stroke="#333"/>
<line x1="1896" y1="652" x2="1934" y2="620" stroke="#333"/>
<text x="1941" y="678" class="s">300</text><text x="1986" y="678" class="s">35</text>
<text class="s" transform="translate(1829,556) rotate(-90)">800</text>
<text class="s" transform="translate(1850,495) rotate(-90)">200</text>
<text class="s" transform="translate(1889,461) rotate(-90)">55</text>
<text class="s" transform="translate(2003,609) rotate(-90)">30</text>
<text class="s" transform="translate(1856,623) rotate(-90)">150</text>
<text class="s" transform="translate(1874,650) rotate(-90)">35</text>
<text x="1546" y="721" style="font-size:16px">5-5</text>
<text x="1394" y="767" class="s" style="font-size:11px">+14,700</text>
<line x1="1374" y1="774" x2="1417" y2="774" stroke="#333"/>
<text x="1517" y="759" class="m">11</text><text x="1574" y="759" class="m">12</text>
<line x1="1520" y1="765" x2="1534" y2="802" stroke="#333"/><line x1="1520" y1="765" x2="1552" y2="802" stroke="#333"/>
<line x1="1574" y1="765" x2="1552" y2="802" stroke="#333"/><line x1="1574" y1="765" x2="1565" y2="802" stroke="#333"/>
<text x="1612" y="839" class="m">14</text>
<text x="1468" y="845" class="m">10</text><text x="1468" y="857" class="s">step 100</text>
<text x="1470" y="886" class="m">15</text><text x="1470" y="898" class="s">step 200</text>
<text x="1619" y="892" class="m">9</text><text x="1619" y="902" class="s">step 100</text>
<line x1="1605" y1="897" x2="1565" y2="862" stroke="#333"/><line x1="1605" y1="897" x2="1565" y2="885" stroke="#333"/><line x1="1605" y1="897" x2="1565" y2="927" stroke="#333"/>
<text x="1532" y="968" class="m">6</text>
<text x="1542" y="991" class="s">300</text><text x="1591" y="983" class="s">35</text>
<text class="s" transform="translate(1427,875) rotate(-90)">800</text>
<text class="s" transform="translate(1449,811) rotate(-90)">200</text>
<text class="s" transform="translate(1479,774) rotate(-90)">55</text>
<text class="s" transform="translate(1629,794) rotate(-90)">50</text>
<text class="s" transform="translate(1463,934) rotate(-90)">150</text>
<text class="s" transform="translate(1460,965) rotate(-90)">35</text>
<text x="1940" y="728" style="font-size:16px">6-6</text>
<text x="1787" y="767" class="s" style="font-size:11px">+14,700</text>
<line x1="1771" y1="774" x2="1817" y2="774" stroke="#333"/>
<text x="1906" y="759" class="m">13</text><text x="1987" y="754" class="m">Weld</text>
<line x1="1975" y1="761" x2="2015" y2="761" stroke="#333"/><line x1="1975" y1="761" x2="1966" y2="802" stroke="#333"/>
<line x1="1910" y1="765" x2="1921" y2="802" stroke="#333"/><line x1="1910" y1="765" x2="1934" y2="802" stroke="#333"/><line x1="1910" y1="765" x2="1952" y2="802" stroke="#333"/>
<text x="1865" y="839" class="m">10</text><text x="1865" y="851" class="s">step 200</text>
<text x="1881" y="877" class="m">9</text>
<text x="2015" y="853" class="m">9</text><text x="2015" y="863" class="s">step 100</text>
<text x="2012" y="888" class="m">15</text><text x="2012" y="899" class="s">step 400</text>
<text x="1895" y="971" class="m">14</text><text x="2002" y="963" class="m">6</text>
<text x="1940" y="991" class="s">300</text><text x="1986" y="978" class="s">35</text>
<text class="s" transform="translate(1825,875) rotate(-90)">800</text>
<text class="s" transform="translate(1847,811) rotate(-90)">200</text>
<text class="s" transform="translate(1869,774) rotate(-90)">55</text>
<text class="s" transform="translate(1999,924) rotate(-90)">30</text>
<text class="s" transform="translate(1858,936) rotate(-90)">150</text>
<text class="s" transform="translate(1859,965) rotate(-90)">35</text>
<text x="1542" y="1038" style="font-size:16px">7-7</text>
<text x="1390" y="1077" class="s" style="font-size:11px">+14,700</text>
<line x1="1370" y1="1084" x2="1413" y2="1084" stroke="#333"/>
<text x="1504" y="1070" class="m">11</text><text x="1545" y="1065" class="m">12</text><text x="1591" y="1068" class="m">Weld</text>
<line x1="1575" y1="1075" x2="1615" y2="1075" stroke="#333"/><line x1="1575" y1="1075" x2="1560" y2="1110" stroke="#333"/>
<line x1="1508" y1="1076" x2="1521" y2="1110" stroke="#333"/><line x1="1508" y1="1076" x2="1534" y2="1110" stroke="#333"/>
<line x1="1548" y1="1071" x2="1552" y2="1110" stroke="#333"/>
<text x="1468" y="1149" class="m">10</text><text x="1468" y="1160" class="s">step 200</text>
<text x="1483" y="1187" class="m">9</text>
<text x="1617" y="1162" class="m">9</text><text x="1617" y="1174" class="s">step 100</text>
<text x="1614" y="1197" class="m">15</text><text x="1614" y="1209" class="s">step 400</text>
<text x="1499" y="1281" class="m">14</text><text x="1605" y="1273" class="m">6</text>
<text x="1542" y="1304" class="s">300</text><text x="1588" y="1289" class="s">35</text>
<text class="s" transform="translate(1428,1180) rotate(-90)">800</text>
<text class="s" transform="translate(1449,1120) rotate(-90)">200</text>
<text class="s" transform="translate(1472,1086) rotate(-90)">55</text>
<text class="s" transform="translate(1495,1227) rotate(-90)">30</text>
<text class="s" transform="translate(1596,1246) rotate(-90)">125</text>
<text class="s" transform="translate(1476,1274) rotate(-90)">35</text>

<text x="1518" y="1622" style="font-size:16px">NOTES</text>
<g>
<text x="1435" y="1650" class="l s">1. This sheet to be viewed together with sheet 15.</text>
<text x="1435" y="1662" class="l s">2. Protective layer of concrete is shown in sections.</text>
<text x="1435" y="1675" class="l s">3. Perform mechanical connection of reinforcing bars in the indicated places. Quality control</text>
<text x="1435" y="1687" class="l s">of mechanical connections of reinforced bars should be carried out in accordance with SP</text>
<text x="1435" y="1700" class="l s">70.13330-2012 and instructions  : 11.5.5.1-11.5.5.6 SP63.13330.2012 ch.3.</text>
<text x="1435" y="1713" class="l s">4. Reinforcement  so that the joints are staggered, no more than 50% in one section.</text>
</g>
</svg>
</body></html>
